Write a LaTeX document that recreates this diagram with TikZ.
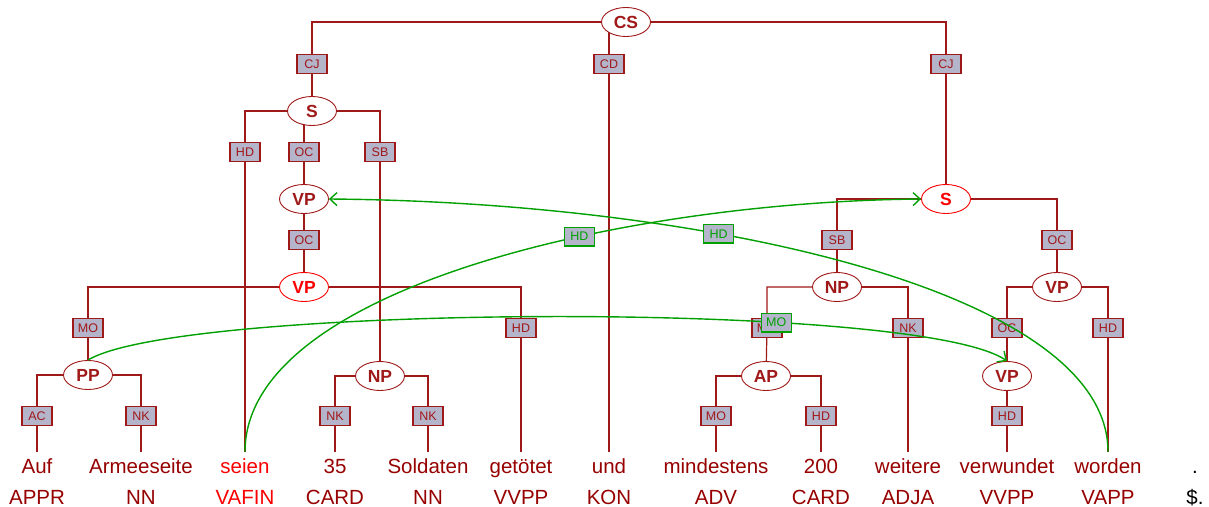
\documentclass[tikz,border=0pt]{standalone}
\usepackage{fontspec}
\setmainfont{Liberation Sans}
\usepackage{tikz}
\usetikzlibrary{shapes.geometric,arrows.meta,backgrounds}
\definecolor{treered}{RGB}{160,25,25}
\definecolor{tokred}{RGB}{150,0,0}
\definecolor{hired}{RGB}{250,0,0}
\definecolor{boxgray}{RGB}{180,180,202}
\definecolor{secgreen}{RGB}{0,160,0}
\tikzset{
  cat/.style={ellipse, draw=treered, fill=white, line width=0.9pt, minimum width=49pt, minimum height=29pt, inner sep=0pt, text=treered, font=\fontsize{17.5}{20}\selectfont\bfseries},
  hicat/.style={cat, draw=hired, text=hired},
  func/.style={rectangle, draw=treered, fill=boxgray, line width=1.3pt, minimum width=30pt, minimum height=18.5pt, inner sep=0pt, text=treered, font=\fontsize{12.5}{14}\selectfont},
  secfunc/.style={func, draw=secgreen, text=secgreen},
  word/.style={anchor=base, inner ysep=7pt, text height=14pt, text depth=4pt, font=\fontsize{20.5}{24}\selectfont},
  tag/.style={anchor=base, inner sep=0pt, font=\fontsize{20.5}{24}\selectfont},
  tree/.style={draw=treered, line width=1.2pt},
  sec/.style={draw=secgreen, line width=1.4pt, ->}
}

\begin{document}
\begin{tikzpicture}[x=1pt,y=-1pt,>={Straight Barb[length=7pt,width=13pt,line width=1.4pt]}]
  \useasboundingbox (0,0) rectangle (1209,506);
  \node[cat] (CS) at (626,22) {CS};
  \node[cat] (S1) at (312,111) {S};
  \node[cat] (VP1) at (304,199) {VP};
  \node[hicat] (VP2) at (304,287) {VP};
  \node[cat] (PP) at (88,375) {PP};
  \node[cat] (NP1) at (380,376) {NP};
  \node[hicat] (S2) at (946,199) {S};
  \node[cat] (NP2) at (837,287) {NP};
  \node[cat] (AP) at (766,376) {AP};
  \node[cat] (VP3) at (1057,287) {VP};
  \node[cat] (VP4) at (1007,376) {VP};
  \node[func] (cj1) at (312,64) {CJ};
  \node[func] (cd) at (609,64) {CD};
  \node[func] (cj2) at (946,64) {CJ};
  \node[func] (hd1) at (245,152) {HD};
  \node[func] (oc1) at (304,152) {OC};
  \node[func] (sb1) at (380,152) {SB};
  \node[func] (oc2) at (304,240) {OC};
  \node[func] (sb2) at (837,240) {SB};
  \node[func] (oc3) at (1057,240) {OC};
  \node[func] (mo1) at (88,328) {MO};
  \node[func] (hd2) at (521,328) {HD};
  \node[func] (mo2) at (767,328) {MO};
  \node[func] (nk1) at (908,328) {NK};
  \node[func] (oc4) at (1007,328) {OC};
  \node[func] (hd3) at (1108,328) {HD};
  \node[func] (ac) at (37,416) {AC};
  \node[func] (nk2) at (141,416) {NK};
  \node[func] (nk3) at (335,416) {NK};
  \node[func] (nk4) at (428,416) {NK};
  \node[func] (mo3) at (716,416) {MO};
  \node[func] (hd4) at (821,416) {HD};
  \node[func] (hd5) at (1007,416) {HD};
  \foreach \n/\x/\w/\t/\c in {1/37/Auf/APPR/tokred, 2/141/Armeeseite/NN/tokred, 3/245/seien/VAFIN/hired, 4/335/35/CARD/tokred, 5/428/Soldaten/NN/tokred, 6/521/getötet/VVPP/tokred, 7/609/und/KON/tokred, 8/716/mindestens/ADV/tokred, 9/821/200/CARD/tokred, 10/908/weitere/ADJA/tokred, 11/1007/verwundet/VVPP/tokred, 12/1108/worden/VAPP/tokred, 13/1195/{.}/{\$.}/black}
  {
    \node[word, text=\c] (w\n) at (\x,473) {\w};
    \node[tag, text=\c] (t\n) at (\x,504) {\t};
  }
  \begin{pgfonlayer}{background}
    \draw[tree] (CS) -| (cj1) -- (S1);
    \draw[tree] (CS) -| (cd) -- (w7);
    \draw[tree] (CS) -| (cj2) -- (S2);
    \draw[tree] (S1) -| (hd1) -- (w3);
    \draw[tree] (S1) -| (oc1) -- (VP1);
    \draw[tree] (S1) -| (sb1) -- (NP1);
    \draw[tree] (VP1) -- (oc2) -- (VP2);
    \draw[tree] (VP2) -| (mo1) -- (PP);
    \draw[tree] (VP2) -| (hd2) -- (w6);
    \draw[tree] (PP) -| (ac) -- (w1);
    \draw[tree] (PP) -| (nk2) -- (w2);
    \draw[tree] (NP1) -| (nk3) -- (w4);
    \draw[tree] (NP1) -| (nk4) -- (w5);
    \draw[tree] (S2) -| (sb2) -- (NP2);
    \draw[tree] (S2) -| (oc3) -- (VP3);
    \draw[tree] (NP2) -| (mo2) -- (AP);
    \draw[tree] (NP2) -| (nk1) -- (w10);
    \draw[tree] (AP) -| (mo3) -- (w8);
    \draw[tree] (AP) -| (hd4) -- (w9);
    \draw[tree] (VP3) -| (oc4) -- (VP4);
    \draw[tree] (VP3) -| (hd3) -- (w12);
    \draw[tree] (VP4) -- (hd5) -- (w11);
  \end{pgfonlayer}
  \draw[sec] (w3.north) .. controls +(0,-162) and +(-301,3) .. (S2.west) node [secfunc, pos=0.63] (hd6) {HD};
  \draw[sec] (w12.north) .. controls +(0,-162) and +(372,3) .. (VP1.east) node [secfunc, pos=0.645] (hd7) {HD};
  \draw[sec] (PP.north) .. controls +(92,-56) and +(-88,-61) .. (VP4.north) node [secfunc, pos=0.69] (mo4) {MO};
\end{tikzpicture}
\end{document}
